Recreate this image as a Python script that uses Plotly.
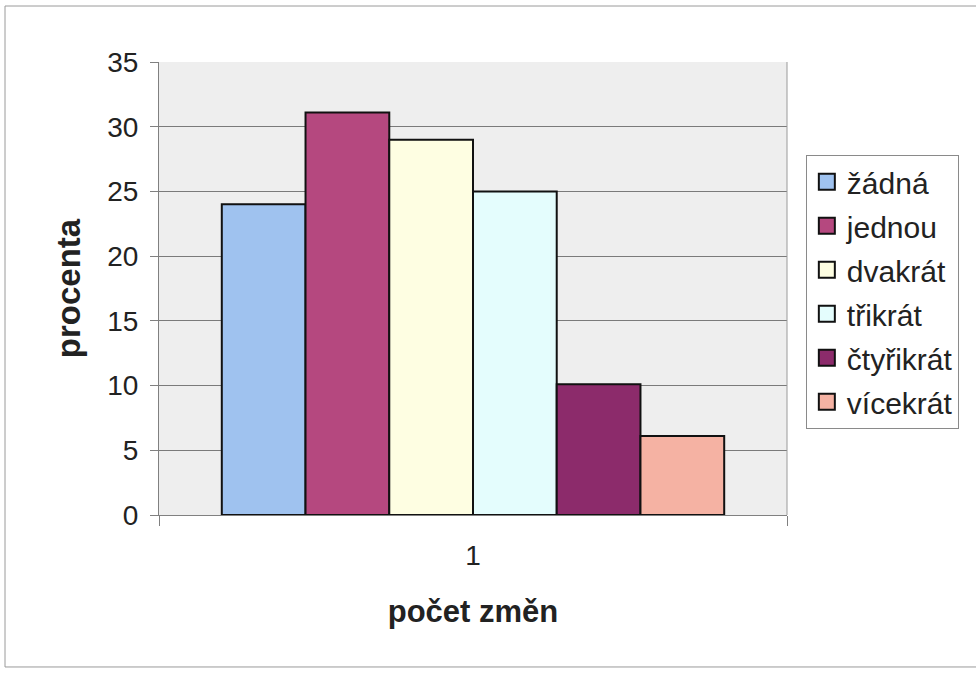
import plotly.graph_objects as go

# category on the x axis and the share (%) for each number of changes
categories = ["1"]
series_names = ["žádná", "jednou", "dvakrát", "třikrát", "čtyřikrát", "vícekrát"]
series_values = [24.0, 31.1, 29.0, 25.0, 10.1, 6.1]
series_colors = ["#9fc2ef", "#b5487f", "#fefee2", "#e4fdfd", "#8c2b6b", "#f5b2a3"]

y_ticks = [0, 5, 10, 15, 20, 25, 30, 35]

FONT = "Liberation Sans, Arial, sans-serif"
TEXT = "#222222"
OUTLINE = "#111111"

fig = go.Figure()
for name, val, col in zip(series_names, series_values, series_colors):
    fig.add_trace(go.Bar(
        x=categories, y=[val], name=name, legendgroup=name, showlegend=False,
        marker=dict(color=col, line=dict(color=OUTLINE, width=2)),
    ))
# legend entries with larger square swatches
for name, col in zip(series_names, series_colors):
    fig.add_trace(go.Scatter(
        x=[None], y=[None], mode="markers", name=name, legendgroup=name,
        marker=dict(symbol="square", size=16, color=col,
                    line=dict(color=OUTLINE, width=2)),
    ))

fig.update_layout(
    width=976, height=675,
    margin=dict(l=159, r=189, t=62, b=160),
    paper_bgcolor="white",
    plot_bgcolor="#eeeeee",
    barmode="group", bargap=0.2, bargroupgap=0,
    font=dict(family=FONT, size=28, color=TEXT),
    showlegend=True,
    legend=dict(
        x=1.03, xanchor="left", y=0.795, yanchor="top",
        bgcolor="white", bordercolor="#8a8a8a", borderwidth=1,
        font=dict(family=FONT, size=30, color=TEXT),
        tracegroupgap=2, traceorder="grouped",
        itemsizing="trace",
    ),
    xaxis=dict(
        type="category", showgrid=False,
        showline=True, linecolor="#808080", linewidth=1,
        ticks="outside", tickson="boundaries", ticklen=10, tickcolor="#808080",
        ticklabelstandoff=15,
        tickfont=dict(size=28),
        title=dict(text="<b>počet změn</b>", font=dict(size=31), standoff=30),
        mirror=False,
    ),
    yaxis=dict(
        range=[0, 35], tickvals=y_ticks,
        showgrid=True, gridcolor="#7a7a7a", gridwidth=1,
        showline=True, linecolor="#808080", linewidth=1,
        ticks="outside", ticklen=8, tickcolor="#808080",
        ticklabelstandoff=6,
        tickfont=dict(size=28),
        title=dict(text="<b>procenta</b>", font=dict(size=33), standoff=16),
        zeroline=False,
    ),
    shapes=[
        # thin frame around the whole chart area
        dict(type="rect", xref="paper", yref="paper",
             x0=-0.2452, x1=1.32, y0=-0.3355, y1=1.1236,
             line=dict(color="#9a9a9a", width=1), layer="below"),
        # right edge of the plot area
        dict(type="line", xref="paper", yref="paper",
             x0=1, x1=1, y0=0, y1=1,
             line=dict(color="#9a9a9a", width=1)),
    ],
)

fig.write_html("out.html")
